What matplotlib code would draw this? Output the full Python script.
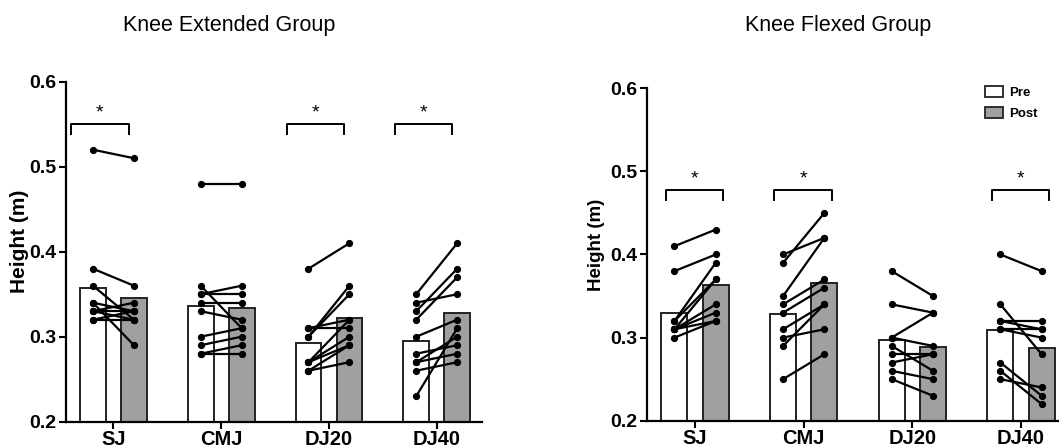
import numpy as np
import matplotlib
matplotlib.use("Agg")
import matplotlib.pyplot as plt
from matplotlib.patches import Patch

plt.rcParams["font.family"] = ["Liberation Sans", "DejaVu Sans"]

groups = ["SJ", "CMJ", "DJ20", "DJ40"]

# knee extended group, one list per jump test, one value per subject
ext_pre = [
    [0.52, 0.38, 0.36, 0.34, 0.34, 0.33, 0.33, 0.33, 0.32, 0.32],
    [0.48, 0.36, 0.35, 0.35, 0.34, 0.33, 0.30, 0.29, 0.28, 0.28],
    [0.38, 0.31, 0.31, 0.30, 0.30, 0.27, 0.27, 0.27, 0.26, 0.26],
    [0.35, 0.34, 0.33, 0.32, 0.30, 0.28, 0.27, 0.27, 0.26, 0.23],
]
ext_post = [
    [0.51, 0.36, 0.32, 0.29, 0.33, 0.34, 0.32, 0.33, 0.33, 0.32],
    [0.48, 0.31, 0.36, 0.35, 0.34, 0.32, 0.31, 0.30, 0.29, 0.28],
    [0.41, 0.32, 0.31, 0.36, 0.35, 0.32, 0.30, 0.29, 0.29, 0.27],
    [0.41, 0.35, 0.38, 0.37, 0.32, 0.29, 0.30, 0.28, 0.27, 0.31],
]
ext_sig = [True, False, True, True]

# knee flexed group
flex_pre = [
    [0.41, 0.38, 0.32, 0.31, 0.32, 0.31, 0.31, 0.30, 0.31],
    [0.40, 0.39, 0.35, 0.34, 0.33, 0.31, 0.30, 0.29, 0.25],
    [0.38, 0.34, 0.30, 0.30, 0.29, 0.28, 0.27, 0.26, 0.25],
    [0.40, 0.34, 0.32, 0.32, 0.31, 0.31, 0.27, 0.26, 0.25],
]
flex_post = [
    [0.43, 0.40, 0.39, 0.37, 0.37, 0.34, 0.33, 0.32, 0.32],
    [0.42, 0.45, 0.42, 0.37, 0.36, 0.34, 0.31, 0.34, 0.28],
    [0.35, 0.33, 0.33, 0.29, 0.26, 0.28, 0.28, 0.25, 0.23],
    [0.38, 0.28, 0.32, 0.31, 0.31, 0.30, 0.23, 0.22, 0.24],
]
flex_sig = [True, True, False, True]

W, H = 1059, 446
fig = plt.figure(figsize=(W / 100, H / 100), dpi=100)

ax1 = fig.add_axes([66 / W, 1 - 421.7 / H, 416 / W, 340 / H])
ax2 = fig.add_axes([647.3 / W, 1 - 420.7 / H, 411.7 / W, 332.4 / H])

off = 0.19
bw = 0.24


def panel(ax, pre, post, sig, br_top, br_leg, br_span, xlim, ylab_size, ylab_x):
    x = np.arange(len(groups))
    ax.bar(x - off, [np.mean(v) for v in pre], bw, color="white",
           edgecolor="#222222", linewidth=1.4, zorder=1)
    ax.bar(x + off, [np.mean(v) for v in post], bw, color="#a0a0a0",
           edgecolor="#222222", linewidth=1.4, zorder=1)
    for i in range(len(groups)):
        for a, b in zip(pre[i], post[i]):
            ax.plot([i - off, i + off], [a, b], color="black", lw=1.6,
                    marker="o", ms=4.2, zorder=3, clip_on=False)
        if sig[i]:
            x0, x1 = i + br_span[0], i + br_span[1]
            ax.plot([x0, x0, x1, x1], [br_leg, br_top, br_top, br_leg],
                    color="black", lw=1.4, clip_on=False)
            ax.text((x0 + x1) / 2, br_top + 0.003, "*", ha="center",
                    va="bottom", fontsize=14)

    ax.set_xlim(*xlim)
    ax.set_ylim(0.2, 0.6)
    ax.set_yticks([0.2, 0.3, 0.4, 0.5, 0.6])
    ax.set_yticklabels(["0.2", "0.3", "0.4", "0.5", "0.6"])
    ax.set_xticks(x)
    ax.set_xticklabels(groups)
    for lab in ax.get_yticklabels():
        lab.set_fontweight("bold")
        lab.set_fontsize(14)
    for lab in ax.get_xticklabels():
        lab.set_fontweight("bold")
        lab.set_fontsize(14.5)
    ax.tick_params(width=1.5, length=5, pad=2)
    ax.tick_params(axis="x", pad=1)
    ax.spines["top"].set_visible(False)
    ax.spines["right"].set_visible(False)
    ax.spines["left"].set_linewidth(1.6)
    ax.spines["bottom"].set_linewidth(1.6)
    ax.set_ylabel("Height (m)", fontsize=ylab_size, fontweight="bold")
    ax.yaxis.set_label_coords(ylab_x, 0.53)


panel(ax1, ext_pre, ext_post, ext_sig, 0.55, 0.538, (-0.39, 0.14),
      (-0.44, 3.42), 15, -0.089)
panel(ax2, flex_pre, flex_post, flex_sig, 0.478, 0.466, (-0.27, 0.26),
      (-0.44, 3.35), 13.5, -0.103)

fig.text(229 / W, 1 - 25 / H, "Knee Extended Group", ha="center",
         va="center", fontsize=15.5)
fig.text(838 / W, 1 - 25 / H, "Knee Flexed Group", ha="center",
         va="center", fontsize=15.5)

handles = [Patch(facecolor="white", edgecolor="#222222", linewidth=1.3),
           Patch(facecolor="#a0a0a0", edgecolor="#222222", linewidth=1.3)]
ax2.legend(handles, ["Pre", "Post"], loc="upper left",
           bbox_to_anchor=(985 / W, 1 - 86 / H),
           bbox_transform=fig.transFigure, frameon=False, borderpad=0,
           borderaxespad=0, handlelength=1.4, handleheight=0.9,
           handletextpad=0.45, labelspacing=0.6,
           prop={"weight": "bold", "size": 9.5})

fig.savefig("out.png", dpi=100)
